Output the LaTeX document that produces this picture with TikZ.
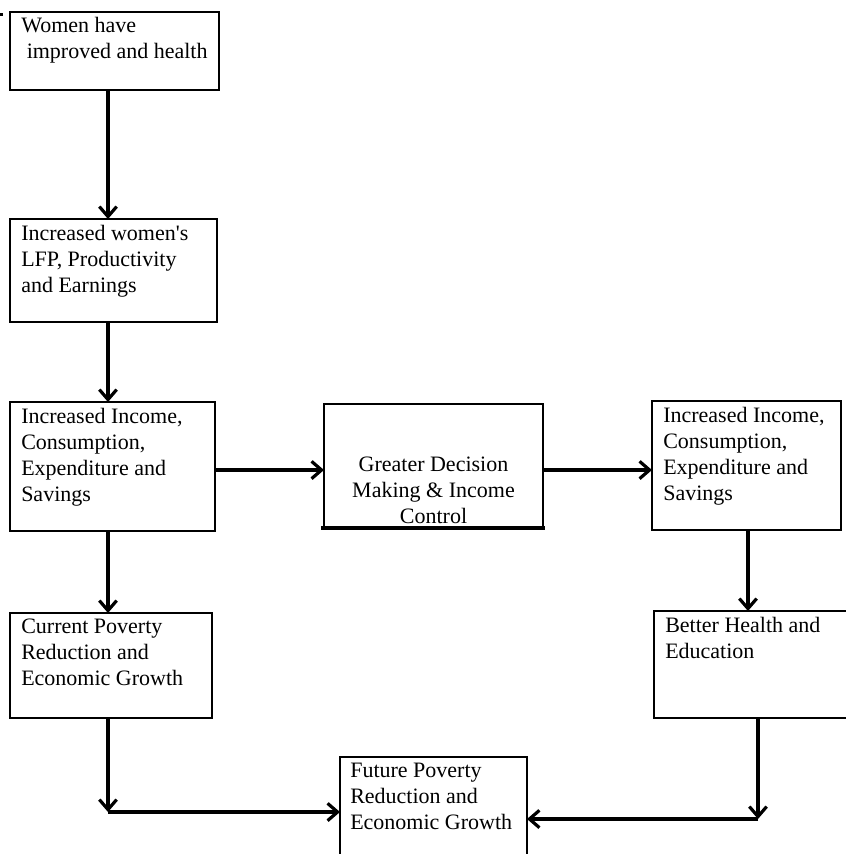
\documentclass[tikz,border=0pt]{standalone}
\usepackage{fontspec}
\setmainfont{Liberation Serif}
\usetikzlibrary{arrows.meta,positioning,calc,fit}

\begin{document}
\begin{tikzpicture}[x=0.75pt,y=-0.75pt,
        box/.style={draw,line width=1.1pt,inner sep=0,outer sep=0},
        txt/.style={align=left,inner sep=0,anchor=north west,font=\fontsize{16.5}{19.5}\selectfont},
        arr/.style={line width=2.4pt,-{Straight Barb[length=7.5pt,width=13pt]}}]
        % Page
        \clip (0,0) rectangle (846,854);
        \fill (0,13) rectangle (3,16);

        % Boxes
        \node[box,fit={(10,12) (219,90)}] (women) {};
        \node[box,fit={(10,219) (217,322)}] (lfp) {};
        \node[box,fit={(10,402) (215,531)}] (inc) {};
        \node[box,fit={(10,613) (212,718)}] (cur) {};
        \node[box,fit={(324,404) (543,528)}] (gdm) {};
        \node[box,fit={(652,401) (841,530)}] (inc2) {};
        \node[box,fit={(654,611) (870,718)}] (health) {};
        \node[box,fit={(340,757) (527,900)}] (future) {};
        \draw[line width=2.4pt] ($(gdm.south west)+(-3,0)$) -- ($(gdm.south east)+(2,0)$);

        % Texts
        \node[txt] (womenT) at ($(women.north west)+(11,5)$) {Women have\\\hspace*{0.25em}improved and health};
        \node[txt] (lfpT) at ($(lfp.north west)+(11,6)$) {Increased women\textquotesingle s\\LFP, Productivity\\and Earnings};
        \node[txt] (incT) at ($(inc.north west)+(11,6)$) {Increased Income,\\Consumption,\\Expenditure and\\Savings};
        \node[txt] (curT) at ($(cur.north west)+(11,6)$) {Current Poverty\\Reduction and\\Economic Growth};
        \node[txt,align=center,anchor=south] (gdmT) at ($(gdm.south)+(0,-4)$) {Greater Decision\\Making \& Income\\Control};
        \node[txt] (inc2T) at ($(inc2.north west)+(11,6)$) {Increased Income,\\Consumption,\\Expenditure and\\Savings};
        \node[txt] (healthT) at ($(health.north west)+(11,6)$) {Better Health and\\Education};
        \node[txt] (futureT) at ($(future.north west)+(10,6)$) {Future Poverty\\Reduction and\\Economic Growth};

        % Flow
        \coordinate (mid) at (0,470);
        \coordinate (lc) at (108,812);
        \coordinate (rc) at (758,819);
        \draw[arr] ($(women.south west)+(98,0)$) -- ($(lfp.north west)+(98,0)$);
        \draw[arr] ($(lfp.south west)+(98,0)$) -- ($(inc.north west)+(98,0)$);
        \draw[arr] ($(inc.south west)+(98,0)$) -- ($(cur.north west)+(98,0)$);
        \draw[arr] (inc.east |- mid) -- (gdm.west |- mid);
        \draw[arr] (gdm.east |- mid) -- (inc2.west |- mid);
        \draw[arr] ($(inc2.south west)+(96,0)$) -- ($(health.north west)+(94,0)$);
        \draw[arr] (cur.south -| lc) -- (lc);
        \draw[arr] (lc) -- (future.west |- lc);
        \draw[arr] (health.south -| rc) -- (rc);
        \draw[arr] (rc) -- (future.east |- rc);
    \end{tikzpicture}
\end{document}
